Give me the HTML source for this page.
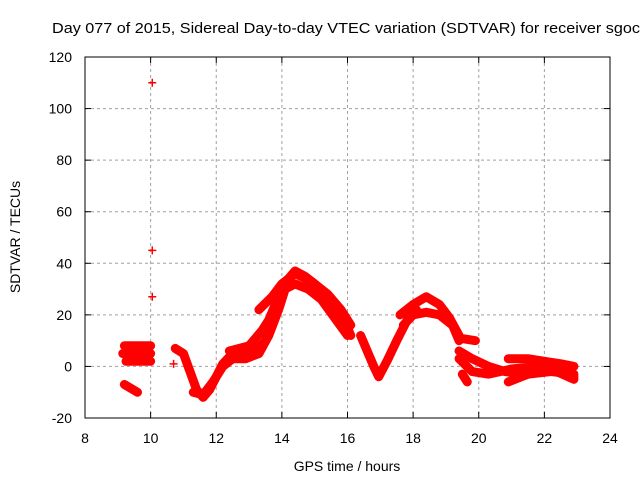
<!DOCTYPE html>
<html><head><meta charset="utf-8"><style>
body{margin:0;background:#fff}
svg{display:block;font-family:"Liberation Sans",sans-serif}
</style></head><body>
<svg id="c" width="640" height="480" viewBox="0 0 640 480">
<text x="52" y="33" font-size="15" textLength="588" lengthAdjust="spacingAndGlyphs" fill="#000">Day 077 of 2015, Sidereal Day-to-day VTEC variation (SDTVAR) for receiver sgoc</text>
<g id="grid"></g>
<g id="axes"></g>
<g id="marks"></g>
<rect x="85" y="57" width="525" height="361" fill="none" stroke="#000" stroke-width="1"/>
<text x="347" y="471" font-size="14" text-anchor="middle">GPS time / hours</text>
<text transform="translate(20,237) rotate(-90)" font-size="14" text-anchor="middle">SDTVAR / TECUs</text>
</svg>
<script>
const xTicks=[8,10,12,14,16,18,20,22,24];
const yTicks=[-20,0,20,40,60,80,100,120];
const trackA1=[[9.2,8],[10,8]];
const trackA2=[[9.15,5],[10,5]];
const trackA3=[[9.25,2],[10,2]];
const trackB=[[9.2,-7],[9.6,-10]];
const outliers=[[10.05,110],[10.05,45],[10.05,27],[10.7,1]];
const trackC=[[10.75,7],[11.0,5],[11.2,-2],[11.4,-9],[11.6,-12],[11.8,-9],[12.0,-4],[12.2,1],[12.5,5],[12.9,6],[13.2,6],[13.5,10],[13.8,20],[14.0,28],[14.2,34],[14.4,37],[14.7,35],[15.0,32],[15.3,28],[15.6,24],[15.9,18],[16.1,12]];
const trackD=[[11.3,-10],[11.6,-11],[11.9,-6],[12.2,0],[12.5,3],[12.9,3],[13.3,5],[13.6,12],[13.9,22],[14.1,30],[14.4,32],[14.8,30],[15.2,26],[15.6,19],[16.0,12]];
const trackE=[[13.3,22],[13.7,27],[14.0,32],[14.4,36],[14.9,33],[15.4,28],[15.8,22],[16.1,16]];
const trackE2=[[12.4,6],[13.0,8],[13.4,14],[13.6,18],[13.8,24]];
const trackF=[[16.4,12],[16.6,6],[16.8,0],[16.95,-4],[17.2,2],[17.5,10],[17.9,20],[18.1,22]];
const trackG=[[17.6,20],[18.0,24],[18.4,27],[18.8,24],[19.1,19],[19.4,12]];
const trackH=[[17.7,16],[18.0,20],[18.4,21],[18.8,20],[19.2,16],[19.4,10]];
const trackI=[[19.4,11],[19.9,10]];
const trackJ=[[19.4,6],[19.8,3],[20.3,0],[20.8,-2],[21.5,-3],[22.2,-2],[22.9,-3]];
const trackK=[[19.4,3],[19.8,-2],[20.3,-3],[21.0,-1],[21.8,0],[22.4,-1],[22.9,-4]];
const trackL=[[20.9,3],[21.5,3],[22.0,2],[22.5,1],[22.9,0]];
const trackM=[[20.9,-6],[21.5,-3],[22.2,-1],[22.9,-5]];
const trackN=[[19.5,-3],[19.65,-6]];
const tracks=[trackA1,trackA2,trackA3,trackB,trackC,trackD,trackE,trackE2,trackF,trackG,trackH,trackI,trackJ,trackK,trackL,trackM,trackN];

const X=h=>85+(h-8)*525/16;
const Y=v=>418-(v+20)*361/140;
const NS="http://www.w3.org/2000/svg";
function mk(t,a,p){const e=document.createElementNS(NS,t);for(const k in a)e.setAttribute(k,a[k]);p.appendChild(e);return e;}
const grid=document.getElementById('grid'),axes=document.getElementById('axes'),marks=document.getElementById('marks');
xTicks.forEach(t=>{const x=X(t);
 if(t>8&&t<24){const g=mk('line',{x1:x,x2:x,y1:57,y2:418,stroke:'#a0a0a0','stroke-dasharray':'3,3'},grid);
 }
 mk('line',{x1:x,x2:x,y1:418,y2:412,stroke:'#000'},axes);mk('line',{x1:x,x2:x,y1:57,y2:63,stroke:'#000'},axes);
 const l=mk('text',{x:x,y:443,'font-size':14,'text-anchor':'middle'},axes);l.textContent=t;
 });
yTicks.forEach(t=>{const y=Y(t);
 if(t>-20&&t<120){const g=mk('line',{x1:85,x2:610,y1:y,y2:y,stroke:'#a0a0a0','stroke-dasharray':'3,3'},grid);
 }
 mk('line',{x1:85,x2:91,y1:y,y2:y,stroke:'#000'},axes);mk('line',{x1:610,x2:604,y1:y,y2:y,stroke:'#000'},axes);
 const l=mk('text',{x:72,y:y+5,'font-size':14,'text-anchor':'end'},axes);l.textContent=t;
 });
function plus(h,v){const x=X(h),y=Y(v);
 const p=mk('path',{d:`M${x-4},${y}h8M${x},${y-4}v8`,stroke:'#f00','stroke-width':1.5},marks);
 }
tracks.forEach(tr=>{
 if(tr.length>1){const pl=mk('polyline',{points:tr.map(p=>X(p[0])+','+Y(p[1])).join(' '),fill:'none',stroke:'#f00','stroke-width':9,'stroke-linejoin':'round','stroke-linecap':'round'},marks);
 }
 tr.forEach(p=>plus(p[0],p[1]));});
outliers.forEach(p=>plus(p[0],p[1]));
</script>
</body></html>
